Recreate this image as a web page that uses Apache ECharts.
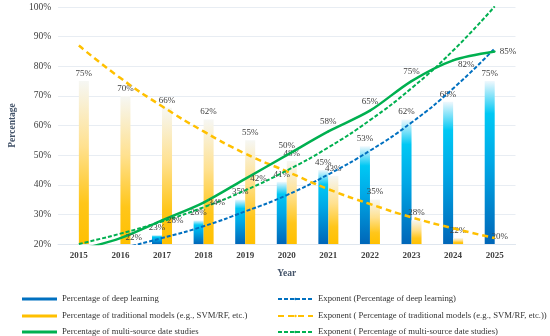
<!DOCTYPE html>
<html><head><meta charset="utf-8">
<script src="https://cdn.jsdelivr.net/npm/echarts@6/dist/echarts.min.js"></script>
<style>html,body{margin:0;padding:0;background:#fff}#c{width:550px;height:336px}</style>
</head><body><div id="c"></div>
<script>
const years = ['2015','2016','2017','2018','2019','2020','2021','2022','2023','2024','2025'];
const deepLearning = [null, null, 23, 28, 35, 41, 45, 53, 62, 68, 75];
const traditional = [75, 70, 66, 62, 55, 48, 43, 35, 28, 22, 20];
const multiSource = [18, 22, 28, 34, 42, 50, 58, 65, 75, 82, 85];
const deepTrend = [15.7, 18.5, 22, 26, 31, 36.5, 43.5, 51.5, 61, 72.5, 86];
const tradTrend = [87, 76, 66.5, 58, 50.5, 44.5, 38.5, 33.5, 29, 25.3, 22];
const multiTrend = [20, 23.5, 27.6, 32.4, 38.1, 44.8, 52.6, 61.8, 72.6, 85.3, 100.2];
const yTicks = { min: 20, max: 100, step: 10 };

const names = {
  dl: 'Percentage of deep learning',
  tr: 'Percentage of traditional models (e.g., SVM/RF, etc.)',
  ms: 'Percentage of multi-source date studies',
  dlT: 'Exponent (Percentage of deep learning)',
  trT: 'Exponent ( Percentage of traditional models (e.g., SVM/RF, etc.))',
  msT: 'Exponent ( Percentage of multi-source date studies)'
};
const FONT = 'Liberation Serif';
const BLUE = '#0070c0', YEL = '#ffc000', GRN = '#00b050';
const lbl = { fontFamily: FONT, fontSize: 9, color: '#404040' };
const fmt = p => (p.value == null || p.value < 20) ? '' : p.value + '%';

const rowsY = [293, 310, 326];
function leg(left, top, item) {
  return {
    orient: 'horizontal', left: left, top: top, itemWidth: 35, itemHeight: 3, padding: 0, itemGap: 0,
    textStyle: { fontFamily: FONT, fontSize: 8.7, color: '#333333', lineHeight: 12 },
    data: [item]
  };
}

const chart = echarts.init(document.getElementById('c'));
chart.setOption({
  animation: false,
  grid: { left: 43.5, right: 34.5, top: 7, bottom: 92 },
  xAxis: {
    type: 'category', data: years,
    name: 'Year', nameLocation: 'middle', nameGap: 25,
    nameTextStyle: { fontFamily: FONT, fontSize: 9.5, fontWeight: 'bold', color: '#44546a' },
    axisTick: { show: false },
    axisLine: { lineStyle: { color: '#dfe6ee' } },
    axisLabel: { fontFamily: FONT, fontSize: 9, fontWeight: 'bold', color: '#404040', margin: 7 }
  },
  yAxis: {
    type: 'value', min: yTicks.min, max: yTicks.max, interval: yTicks.step,
    name: 'Percentage', nameLocation: 'middle', nameGap: 31,
    nameTextStyle: { fontFamily: FONT, fontSize: 9.5, fontWeight: 'bold', color: '#44546a' },
    axisLine: { show: false }, axisTick: { show: false },
    axisLabel: { formatter: '{value}%', fontFamily: FONT, fontSize: 9.5, color: '#404040', margin: 7 },
    splitLine: { lineStyle: { color: '#e8edf3' } }
  },
  legend: [
    leg(22, rowsY[0], { name: names.dl, icon: 'rect', itemStyle: { color: BLUE } }),
    leg(22, rowsY[1], { name: names.tr, icon: 'rect', itemStyle: { color: YEL } }),
    leg(22, rowsY[2], { name: names.ms, icon: 'rect', itemStyle: { color: GRN } }),
    leg(277, rowsY[0], { name: names.dlT }),
    leg(277, rowsY[1], { name: names.trT }),
    leg(277, rowsY[2], { name: names.msT })
  ],
  series: [
    {
      name: names.dl, type: 'bar', data: deepLearning, barWidth: 10, barGap: '0%',
      itemStyle: { color: { type: 'linear', x: 0, y: 0, x2: 0, y2: 1, colorStops: [
        { offset: 0, color: '#f0f8fd' }, { offset: 0.2, color: '#00c8f4' },
        { offset: 0.5, color: '#00a8e6' }, { offset: 1, color: '#0066b8' } ] } },
      label: Object.assign({ show: true, position: 'top', distance: 3, formatter: fmt }, lbl)
    },
    {
      name: names.tr, type: 'bar', data: traditional, barWidth: 10,
      itemStyle: { color: { type: 'linear', x: 0, y: 0, x2: 0, y2: 1, colorStops: [
        { offset: 0, color: '#f6f7f4' }, { offset: 0.4, color: '#ffe190' },
        { offset: 0.75, color: '#ffc61a' }, { offset: 1, color: '#ffc000' } ] } },
      label: Object.assign({ show: true, position: 'top', distance: 3, formatter: fmt }, lbl)
    },
    {
      name: names.ms, type: 'line', smooth: 0.3, symbol: 'circle', symbolSize: 2, showSymbol: true, z: 5,
      lineStyle: { color: GRN, width: 2.5 }, itemStyle: { color: GRN },
      data: multiSource.map((v, i) => ({
        value: v,
        label: { position: (i >= 5 && i <= 8) ? 'top' : 'right', offset: i === 9 ? [0, 4] : [0, 0] }
      })),
      label: Object.assign({ show: true, distance: 4, formatter: fmt }, lbl)
    },
    {
      name: names.dlT, type: 'line', smooth: true, symbol: 'none', z: 4, data: deepTrend,
      lineStyle: { color: BLUE, width: 2, type: [4, 2] }, itemStyle: { color: BLUE }
    },
    {
      name: names.trT, type: 'line', smooth: true, symbol: 'none', z: 4, data: tradTrend,
      lineStyle: { color: YEL, width: 2.5, type: [6, 4] }, itemStyle: { color: YEL }
    },
    {
      name: names.msT, type: 'line', smooth: true, symbol: 'none', z: 4, data: multiTrend,
      lineStyle: { color: GRN, width: 2, type: [4, 2] }, itemStyle: { color: GRN }
    }
  ]
});
</script></body></html>
